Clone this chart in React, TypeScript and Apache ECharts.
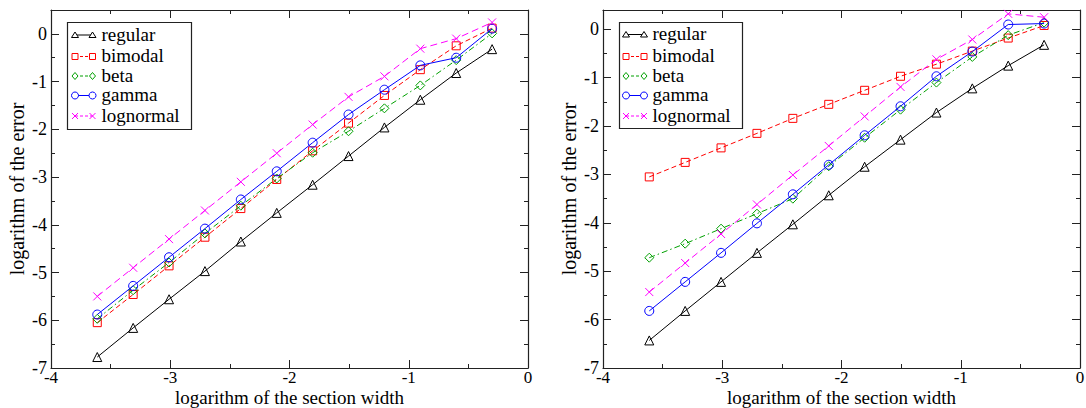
import React, { useEffect, useRef } from "react";
import * as echarts from "echarts";

const xValues = [-3.612, -3.311, -3.01, -2.709, -2.408, -2.107, -1.806, -1.505, -1.204, -0.903, -0.602, -0.301];

const seriesNames = ["regular", "bimodal", "beta", "gamma", "lognormal"];

// Left panel
const leftRegular = [-6.77, -6.16, -5.56, -4.97, -4.35, -3.75, -3.16, -2.56, -1.96, -1.38, -0.82, -0.32];
const leftBimodal = [-6.05, -5.46, -4.86, -4.26, -3.66, -3.05, -2.45, -1.87, -1.29, -0.75, -0.25, 0.12];
const leftBeta = [-5.97, -5.37, -4.79, -4.18, -3.6, -3.03, -2.49, -2.04, -1.56, -1.08, -0.55, 0.01];
const leftGamma = [-5.88, -5.28, -4.68, -4.08, -3.47, -2.88, -2.28, -1.69, -1.17, -0.66, -0.5, 0.11];
const leftLognormal = [-5.5, -4.9, -4.3, -3.7, -3.1, -2.5, -1.9, -1.32, -0.89, -0.31, -0.1, 0.24];

// Right panel
const rightRegular = [-6.43, -5.82, -5.22, -4.62, -4.03, -3.43, -2.84, -2.28, -1.72, -1.22, -0.75, -0.32];
const rightBimodal = [-3.05, -2.75, -2.45, -2.15, -1.84, -1.55, -1.26, -0.97, -0.72, -0.45, -0.18, 0.08];
const rightBeta = [-4.72, -4.43, -4.12, -3.81, -3.5, -2.83, -2.24, -1.66, -1.1, -0.57, -0.12, 0.14];
const rightGamma = [-5.82, -5.22, -4.62, -4.01, -3.41, -2.8, -2.19, -1.59, -0.97, -0.46, 0.1, 0.12];
const rightLognormal = [-5.43, -4.83, -4.23, -3.62, -3.01, -2.41, -1.8, -1.19, -0.62, -0.21, 0.32, 0.25];

const xAxisName = "logarithm of the section width";
const yAxisName = "logarithm of the error";

const FONT = "Liberation Serif";
const AXIS_COLOR = "#222";

const styles = [
  { color: "#000000", dash: "solid" as any, symbol: "triangle", size: 9 },
  { color: "#ff0000", dash: [5, 3] as any, symbol: "rect", size: 8 },
  { color: "#00a000", dash: [6, 3, 1.5, 3] as any, symbol: "diamond", size: 9 },
  { color: "#0000ff", dash: "solid" as any, symbol: "circle", size: 9 },
  { color: "#ff00ff", dash: [7, 4] as any, symbol: "path://M0,0L10,10M10,0L0,10", size: 8 },
];

function legendGraphics(box: { x: number; y: number; w: number; h: number }, x1: number, x2: number, tx: number, ys: number[]) {
  const els: any[] = [];
  els.push({
    type: "rect",
    shape: { x: box.x, y: box.y, width: box.w, height: box.h },
    style: { fill: "#fff", stroke: "#222", lineWidth: 1.2 },
    z: 100,
  });
  ys.forEach((y, i) => {
    const s = styles[i];
    els.push({
      type: "line",
      shape: { x1, y1: y, x2, y2: y },
      style: { stroke: s.color, lineWidth: 1, lineDash: Array.isArray(s.dash) ? [3, 2] : null },
      z: 101,
    });
    [x1, x2].forEach((cx) => {
      const r = 3;
      const st = { fill: "#fff", stroke: s.color, lineWidth: 1 };
      if (i === 0) {
        els.push({ type: "polygon", z: 102, shape: { points: [[cx, y - r], [cx + r + 0.5, y + r - 0.5], [cx - r - 0.5, y + r - 0.5]] }, style: st });
      } else if (i === 1) {
        els.push({ type: "rect", z: 102, shape: { x: cx - r, y: y - r, width: 2 * r, height: 2 * r }, style: st });
      } else if (i === 2) {
        els.push({ type: "polygon", z: 102, shape: { points: [[cx, y - r - 0.5], [cx + r, y], [cx, y + r + 0.5], [cx - r, y]] }, style: st });
      } else if (i === 3) {
        els.push({ type: "circle", z: 102, shape: { cx, cy: y, r: r + 0.5 }, style: st });
      } else {
        els.push({ type: "line", z: 102, shape: { x1: cx - r, y1: y - r, x2: cx + r, y2: y + r }, style: { stroke: s.color, lineWidth: 1 } });
        els.push({ type: "line", z: 102, shape: { x1: cx + r, y1: y - r, x2: cx - r, y2: y + r }, style: { stroke: s.color, lineWidth: 1 } });
      }
    });
    els.push({
      type: "text",
      x: tx,
      y: y - 1,
      style: { text: seriesNames[i], font: `19px "${FONT}"`, lineHeight: 16, fill: "#000", verticalAlign: "middle", align: "left" },
      z: 103,
    });
  });
  return els;
}

export default function App() {
  const ref = useRef<HTMLDivElement>(null);

  useEffect(() => {
    document.body.style.margin = "0";
    const chart = echarts.init(ref.current!, null, { renderer: "svg" });

    const grids = [
      { left: 51, top: 10, width: 477, height: 358, outerBoundsMode: "none", containLabel: false },
      { left: 603, top: 10, width: 477, height: 358, outerBoundsMode: "none", containLabel: false },
    ];
    const yMaxes = [0.5, 0.4];

    const xAxes: any[] = [];
    const yAxes: any[] = [];
    grids.forEach((_, g) => {
      xAxes.push({
        type: "value",
        gridIndex: g,
        position: "bottom",
        min: -4,
        max: 0,
        interval: 1,
        name: xAxisName,
        nameLocation: "middle",
        nameGap: 19.5,
        nameMoveOverlap: false,
        nameTextStyle: { fontFamily: FONT, fontSize: 19, color: "#000", lineHeight: 19 },
        axisLine: { show: true, onZero: false, lineStyle: { color: AXIS_COLOR, width: 1.2 } },
        axisTick: { show: true, inside: true, length: 8, lineStyle: { color: AXIS_COLOR, width: 1 } },
        minorTick: { show: true, splitNumber: 2, length: 4, lineStyle: { color: AXIS_COLOR, width: 1 } },
        axisLabel: { fontFamily: FONT, fontSize: 17, lineHeight: 17, color: "#000", margin: 1 },
        splitLine: { show: false },
        minorSplitLine: { show: false },
      });
      xAxes.push({
        type: "value",
        gridIndex: g,
        position: "top",
        min: -4,
        max: 0,
        interval: 1,
        axisLine: { show: true, onZero: false, lineStyle: { color: AXIS_COLOR, width: 1.2 } },
        axisTick: { show: true, inside: true, length: 8, lineStyle: { color: AXIS_COLOR, width: 1 } },
        minorTick: { show: true, splitNumber: 2, length: 4, lineStyle: { color: AXIS_COLOR, width: 1 } },
        axisLabel: { show: false },
        splitLine: { show: false },
      });
      const yMax = yMaxes[g];
      yAxes.push({
        type: "value",
        gridIndex: g,
        position: "left",
        min: -7,
        max: yMax,
        interval: 1,
        name: yAxisName,
        nameLocation: "middle",
        nameGap: 24,
        nameMoveOverlap: false,
        nameRotate: 90,
        nameTextStyle: { fontFamily: FONT, fontSize: 20, color: "#000" },
        axisLine: { show: true, onZero: false, lineStyle: { color: AXIS_COLOR, width: 1.2 } },
        axisTick: { show: true, inside: true, length: 8, lineStyle: { color: AXIS_COLOR, width: 1 } },
        axisLabel: {
          fontFamily: FONT,
          fontSize: 18,
          color: "#000",
          margin: 4,
          formatter: (v: number) => (Number.isInteger(v) ? String(v) : ""),
        },
        splitLine: { show: false },
      });
      yAxes.push({
        type: "value",
        gridIndex: g,
        position: "left",
        min: -7,
        max: yMax,
        interval: 0.5,
        axisLine: { show: false, onZero: false },
        axisTick: { show: true, inside: true, length: 4, lineStyle: { color: AXIS_COLOR, width: 1 } },
        axisLabel: { show: false },
        splitLine: { show: false },
      });
      yAxes.push({
        type: "value",
        gridIndex: g,
        position: "right",
        min: -7,
        max: yMax,
        interval: 1,
        axisLine: { show: true, onZero: false, lineStyle: { color: AXIS_COLOR, width: 1.2 } },
        axisTick: { show: true, inside: true, length: 8, lineStyle: { color: AXIS_COLOR, width: 1 } },
        axisLabel: { show: false },
        splitLine: { show: false },
      });
      yAxes.push({
        type: "value",
        gridIndex: g,
        position: "right",
        min: -7,
        max: yMax,
        interval: 0.5,
        axisLine: { show: false, onZero: false },
        axisTick: { show: true, inside: true, length: 4, lineStyle: { color: AXIS_COLOR, width: 1 } },
        axisLabel: { show: false },
        splitLine: { show: false },
      });
    });

    const panelData = [
      [leftRegular, leftBimodal, leftBeta, leftGamma, leftLognormal],
      [rightRegular, rightBimodal, rightBeta, rightGamma, rightLognormal],
    ];

    const series: any[] = [];
    panelData.forEach((panel, g) => {
      panel.forEach((vals, i) => {
        const s = styles[i];
        series.push({
          type: "line",
          name: seriesNames[i],
          xAxisIndex: g * 2,
          yAxisIndex: g * 4,
          data: xValues.map((x, k) => [x, vals[k]]),
          symbol: s.symbol,
          symbolSize: s.size,
          showSymbol: true,
          lineStyle: { color: s.color, width: 1, type: s.dash },
          itemStyle: { color: "rgba(255,255,255,0)", borderColor: s.color, borderWidth: 1 },
          emphasis: { disabled: true },
          z: 10 + i,
        });
      });
    });

    const graphic = [
      ...legendGraphics({ x: 67.5, y: 22.5, w: 124, h: 107 }, 75, 92.5, 101.5, [35, 56.5, 76, 95.5, 116]),
      ...legendGraphics({ x: 619.5, y: 22.5, w: 123, h: 106 }, 626, 644, 652.5, [34.5, 56.5, 76, 95.5, 116]),
    ];

    chart.setOption({
      animation: false,
      backgroundColor: "#fff",
      textStyle: { fontFamily: FONT },
      grid: grids,
      xAxis: xAxes,
      yAxis: yAxes,
      series,
      graphic,
    });

    return () => chart.dispose();
  }, []);

  return <div ref={ref} style={{ width: 1086, height: 408 }} />;
}
